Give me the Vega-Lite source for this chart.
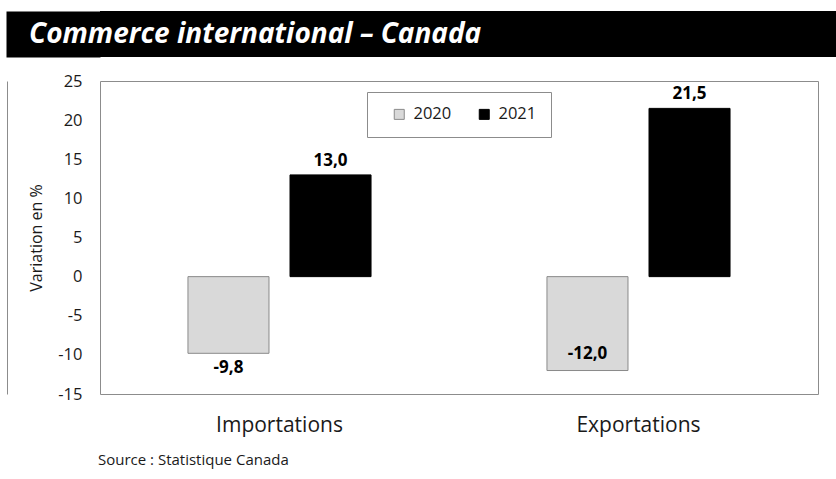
{
  "$schema": "https://vega.github.io/schema/vega-lite/v6.json",
  "padding": {"left": 6, "top": 11, "right": 0, "bottom": 0},
  "background": "white",
  "spacing": 15,
  "config": {
    "font": "Open Sans",
    "locale": {"number": {"decimal": ",", "thousands": "\u00a0", "grouping": [3], "currency": ["", "\u00a0$"], "minus": "-"}},
    "axis": {"grid": false},
    "axisX": {"domain": false, "ticks": false, "labelFontSize": 21, "labelColor": "#1a1a1a", "labelPadding": 20, "labelAngle": 0},
    "axisY": {"domain": false, "ticks": false, "grid": false, "labelFontSize": 16.5, "labelColor": "#1a1a1a", "labelPadding": 18, "titleFontSize": 16, "titleFontWeight": "normal", "titleColor": "#1a1a1a", "titlePadding": 13},
    "legend": {"orient": "none", "legendX": 267, "legendY": 81, "direction": "horizontal", "padding": 14, "strokeColor": "#8c8c8c", "fillColor": "white", "symbolType": "square", "symbolSize": 100, "labelFontSize": 16.5, "labelColor": "#1a1a1a", "columnPadding": 14, "labelOffset": 6, "symbolOffset": 10, "symbolStrokeWidth": 1}
  },
  "vconcat": [
    {
      "width": 737,
      "height": 46,
      "view": {"fill": "black", "stroke": null},
      "data": {"values": [{"t": "Commerce international – Canada"}]},
      "mark": {"type": "text", "align": "left", "baseline": "middle", "dx": -71, "dy": 1, "color": "white", "fontSize": 28, "fontWeight": "bold", "fontStyle": "italic", "font": "Open Sans"},
      "encoding": {
        "text": {"field": "t", "type": "nominal"},
        "x": {"datum": 0, "type": "quantitative", "scale": {"domain": [0, 1]}, "axis": null},
        "y": {"datum": 0, "type": "quantitative", "scale": {"domain": [-1, 1]}, "axis": {"domain": true, "domainColor": "#000000", "domainWidth": 94, "offset": 47, "labels": false, "ticks": false, "grid": false, "title": null}}
      }
    },
    {
      "width": 718,
      "height": 313,
      "view": {"stroke": "#8c8c8c", "strokeWidth": 1},
      "title": {"text": "Source : Statistique Canada", "orient": "bottom", "anchor": "start", "frame": "group", "offset": 18, "dx": -2, "fontSize": 15, "fontWeight": "normal", "color": "#1a1a1a", "font": "Open Sans"},
      "data": {"values": [
        {"cat": "Importations", "annee": "2020", "v": -9.8},
        {"cat": "Importations", "annee": "2021", "v": 13.0},
        {"cat": "Exportations", "annee": "2020", "v": -12.0},
        {"cat": "Exportations", "annee": "2021", "v": 21.5}
      ]},
      "encoding": {
        "x": {"field": "cat", "type": "nominal", "sort": ["Importations", "Exportations"], "title": null, "scale": {"paddingInner": 0.49, "paddingOuter": 0.245}}
      },
      "resolve": {"scale": {"y": "independent"}, "axis": {"y": "independent"}},
      "layer": [
        {
          "encoding": {
            "xOffset": {"field": "annee", "type": "nominal", "sort": ["2020", "2021"], "scale": {"paddingInner": 0.206, "paddingOuter": 0}},
            "y": {"field": "v", "type": "quantitative", "title": "Variation en %", "scale": {"domain": [-15, 25], "nice": false, "zero": false}, "axis": {"values": [-15, -10, -5, 0, 5, 10, 15, 20, 25], "format": "d"}}
          },
          "layer": [
            {
              "mark": {"type": "bar", "strokeWidth": 1},
              "encoding": {
                "color": {"field": "annee", "type": "nominal", "title": null, "scale": {"domain": ["2020", "2021"], "range": ["#d9d9d9", "#000000"]}},
                "stroke": {"field": "annee", "type": "nominal", "title": null, "scale": {"domain": ["2020", "2021"], "range": ["#8a8a8a", "#000000"]}}
              }
            },
            {
              "transform": [{"filter": "datum.v > 0"}],
              "mark": {"type": "text", "baseline": "bottom", "dy": -5, "fontSize": 17, "fontWeight": "bold", "color": "#000000"},
              "encoding": {"text": {"field": "v", "type": "quantitative", "format": ".1f"}}
            },
            {
              "transform": [{"filter": "datum.v < 0 && datum.v > -11"}],
              "mark": {"type": "text", "baseline": "top", "dy": 7, "fontSize": 17, "fontWeight": "bold", "color": "#000000"},
              "encoding": {"text": {"field": "v", "type": "quantitative", "format": ".1f"}}
            },
            {
              "transform": [{"filter": "datum.v <= -11"}],
              "mark": {"type": "text", "baseline": "bottom", "dy": -8, "fontSize": 17, "fontWeight": "bold", "color": "#000000"},
              "encoding": {"text": {"field": "v", "type": "quantitative", "format": ".1f"}}
            }
          ]
        },
        {
          "mark": {"type": "rule", "color": "#8c8c8c", "strokeWidth": 1},
          "encoding": {
            "y": {"datum": 0, "type": "quantitative", "scale": {"domain": [-15, 25], "nice": false, "zero": false}, "axis": {"orient": "left", "offset": 93, "domain": true, "domainColor": "#8c8c8c", "labels": false, "ticks": false, "grid": false, "title": null}}
          }
        }
      ]
    }
  ]
}
